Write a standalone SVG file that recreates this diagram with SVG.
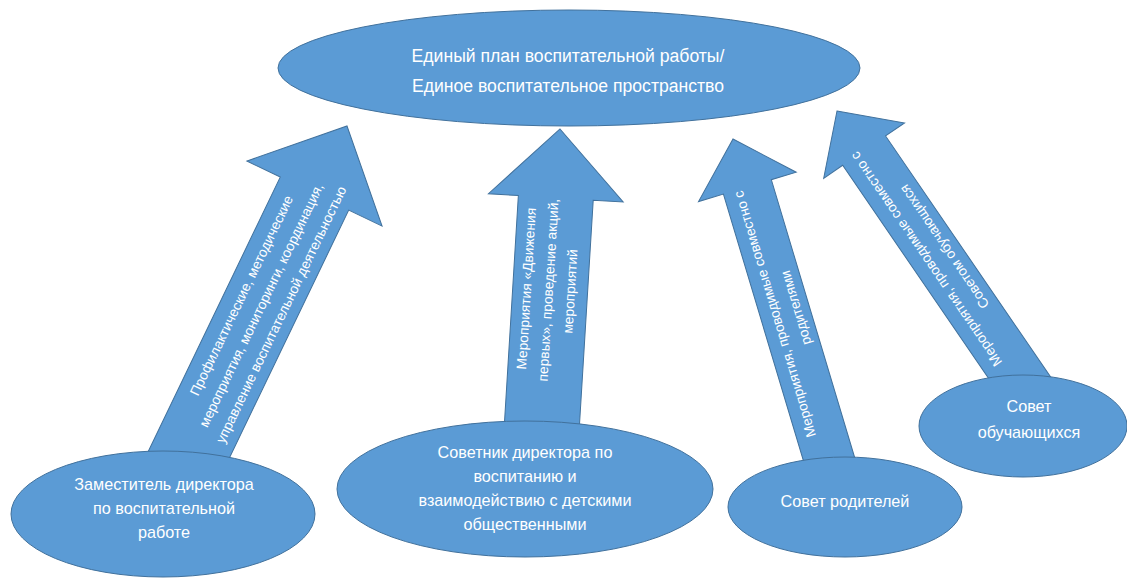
<svg xmlns="http://www.w3.org/2000/svg" width="1127" height="579" viewBox="0 0 1127 579">
<style>
.shape{fill:#5B9BD5;stroke:#41719C;stroke-width:1}
.t{font-family:"Liberation Sans",Arial,sans-serif;fill:#FFFFFF;text-anchor:middle}
.big{font-size:17.6px}
.mid{font-size:16.2px}
.sm{font-size:13.8px}
</style>
<rect width="1127" height="579" fill="#FFFFFF"/>
<g id="connectors">
  <path class="shape" transform="translate(347,126) rotate(25.7)" d="M0,0 L75,75 L38,75 L38,385 L-38,385 L-38,75 L-75,75 Z"/>
  <path class="shape" transform="translate(560,129) rotate(3.5)" d="M0,0 L67.5,69 L37.5,69 L37.5,305 L-37.5,305 L-37.5,69 L-67.5,69 Z"/>
  <path class="shape" transform="translate(733,139) rotate(-16.7)" d="M0,0 L51,50 L25,50 L25,345 L-25,345 L-25,50 L-51,50 Z"/>
  <path class="shape" transform="translate(837,111) rotate(-34.4)" d="M0,0 L49,48 L26,48 L26,345 L-26,345 L-26,48 L-49,48 Z"/>
  <g class="t sm" transform="translate(261,305) rotate(-64.3)">
    <text x="0" y="-17">Профилактические, методические</text>
    <text x="0" y="5">мероприятия, мониторинги, координация,</text>
    <text x="0" y="27">управление воспитательной деятельностью</text>
  </g>
  <g class="t sm" transform="translate(548,290) rotate(-86.5)">
    <text x="0" y="-17">Мероприятия «Движения</text>
    <text x="0" y="5">первых», проведение акций,</text>
    <text x="0" y="27">мероприятий</text>
  </g>
  <g class="t sm" transform="translate(785,311) rotate(-106.7)">
    <text x="0" y="-6">Мероприятия, проводимые совместно с</text>
    <text x="0" y="16">родителями</text>
  </g>
  <g class="t sm" transform="translate(935,253) rotate(-124.4)">
    <text x="0" y="-6">Мероприятия, проводимые совместно с</text>
    <text x="0" y="16">Советом обучающихся</text>
  </g>
</g>
<g id="node-main">
  <ellipse class="shape" cx="569" cy="68" rx="291" ry="58"/>
  <text class="t big" x="568" y="62">Единый план воспитательной работы/</text>
  <text class="t big" x="568" y="92">Единое воспитательное пространство</text>
</g>
<g id="node-deputy">
  <ellipse class="shape" cx="163" cy="514" rx="152" ry="63"/>
  <text class="t mid" x="164" y="490">Заместитель директора</text>
  <text class="t mid" x="164" y="514">по воспитательной</text>
  <text class="t mid" x="164" y="538">работе</text>
</g>
<g id="node-advisor">
  <ellipse class="shape" cx="525" cy="489" rx="188" ry="68"/>
  <text class="t mid" x="525" y="458">Советник директора по</text>
  <text class="t mid" x="525" y="482">воспитанию и</text>
  <text class="t mid" x="525" y="506">взаимодействию с детскими</text>
  <text class="t mid" x="525" y="530">общественными</text>
</g>
<g id="node-parents">
  <ellipse class="shape" cx="845" cy="507" rx="117" ry="50"/>
  <text class="t mid" x="845" y="507">Совет родителей</text>
</g>
<g id="node-students">
  <ellipse class="shape" cx="1023" cy="426" rx="104" ry="51"/>
  <text class="t mid" x="1029" y="412">Совет</text>
  <text class="t mid" x="1029" y="438">обучающихся</text>
</g>
</svg>
